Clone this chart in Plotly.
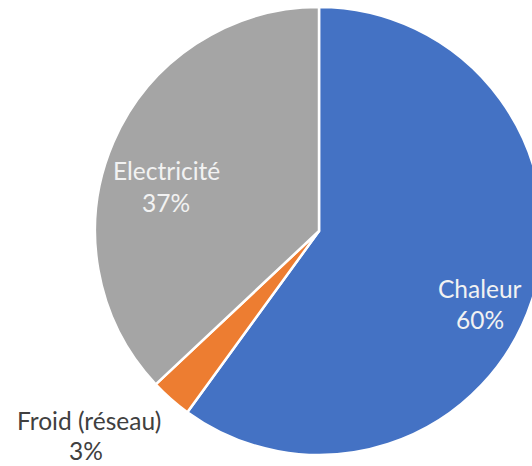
import plotly.graph_objects as go

# Energy use shares
categories = ["Chaleur", "Froid (réseau)", "Electricité"]
shares = [60, 3, 37]
colors = ["#4472C4", "#ED7D31", "#A5A5A5"]

W, H = 560, 466

fig = go.Figure(
    go.Pie(
        labels=categories,
        values=shares,
        sort=False,
        direction="clockwise",
        rotation=0,
        marker=dict(colors=colors, line=dict(color="white", width=2.5)),
        textinfo="none",
        hoverinfo="label+percent",
        domain=dict(x=[95 / W, 543 / W], y=[1 - 455 / H, 1 - 7 / H]),
        showlegend=False,
    )
)

# label placement (pixel centres of each text line) and colours
label_pos = {
    "Chaleur": ((480, 288), (480, 319), "#F2F2F2"),
    "Froid (réseau)": ((89, 420), (86, 450), "#404040"),
    "Electricité": ((166, 170), (166, 202), "#F2F2F2"),
}

for cat, val in zip(categories, shares):
    (x1, y1), (x2, y2), col = label_pos[cat]
    for txt, (px, py) in ((cat, (x1, y1)), (f"{val}%", (x2, y2))):
        fig.add_annotation(
            x=px / W, y=1 - py / H, xref="paper", yref="paper",
            text=txt, showarrow=False, xanchor="center", yanchor="middle",
            font=dict(family="Lato", size=24.5, color=col),
        )

fig.update_layout(
    width=W, height=H,
    margin=dict(l=0, r=0, t=0, b=0),
    paper_bgcolor="white", plot_bgcolor="white",
)

fig.write_html("out.html", post_script="document.body.style.overflow='hidden';document.body.style.margin='0';")
